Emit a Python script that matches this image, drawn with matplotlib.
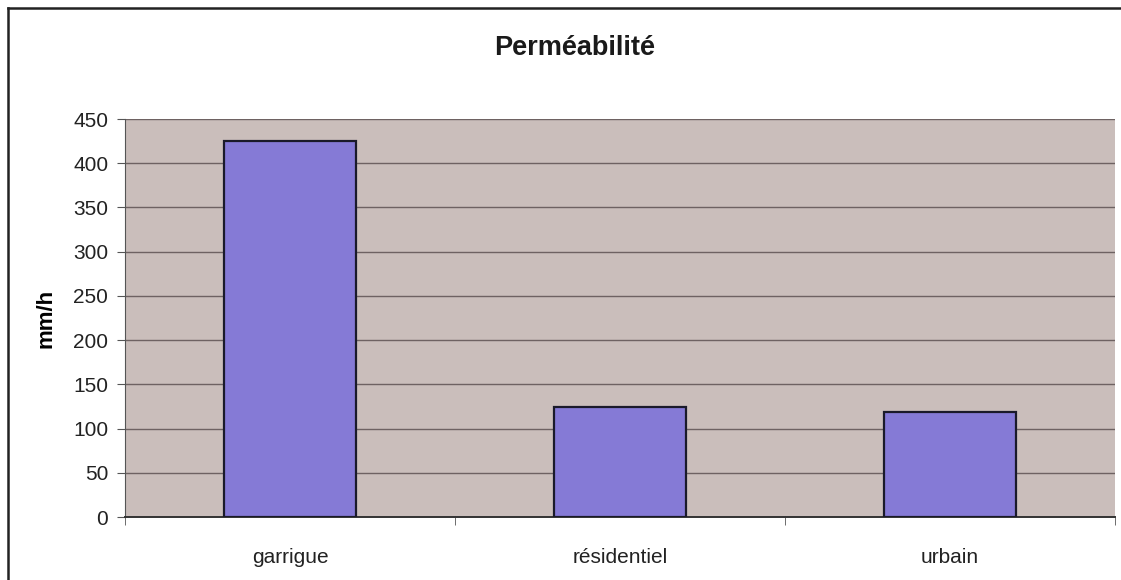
import matplotlib
matplotlib.use('Agg')
import matplotlib.pyplot as plt
import numpy as np
from matplotlib.lines import Line2D

categories = ['garrigue', 'résidentiel', 'urbain']
permeability = [425, 124, 119]  # mm/h
y_ticks = [0, 50, 100, 150, 200, 250, 300, 350, 400, 450]

BAR_COLOR = '#857ad6'
PLOT_BG = '#cabebb'
GRID_COLOR = '#6e6262'

plt.rcParams['font.family'] = ['Liberation Sans', 'DejaVu Sans']

fig = plt.figure(figsize=(11.21, 5.8), dpi=100)
ax = fig.add_axes([0.1115, 0.1086, 0.8831, 0.6862])

x = np.arange(len(categories))
ax.bar(x, permeability, width=0.40, color=BAR_COLOR, edgecolor='#1a1a2a',
       linewidth=1.6, zorder=3)

ax.set_facecolor(PLOT_BG)
ax.set_xlim(-0.5, len(categories) - 0.5)
ax.set_ylim(0, 450)
ax.set_yticks(y_ticks)
ax.set_yticklabels([str(v) for v in y_ticks], fontsize=15, color='#222222')
ax.yaxis.grid(True, color=GRID_COLOR, linewidth=1.0, zorder=1)
ax.set_axisbelow(True)

# category labels in the middle, tick marks on the boundaries
ax.set_xticks(x)
ax.set_xticklabels(categories, fontsize=15, color='#222222')
ax.tick_params(axis='x', which='major', length=0, pad=22)
ax.set_xticks(np.arange(len(categories) + 1) - 0.5, minor=True)
ax.tick_params(axis='x', which='minor', length=6, color='#555555')
ax.tick_params(axis='y', length=6, color='#555555', pad=6)

for side in ['top', 'right']:
    ax.spines[side].set_visible(False)
ax.spines['left'].set_color('#555555')
ax.spines['bottom'].set_color('#333333')
ax.spines['bottom'].set_linewidth(1.4)

ax.set_ylabel('mm/h', fontsize=16, fontweight='bold', labelpad=12)
fig.text(0.513, 0.918, 'Perméabilité', fontsize=19.5, fontweight='bold',
         ha='center', va='center', color='#1a1a1a')

# outer chart frame
fig.add_artist(Line2D([8 / 1121, 8 / 1121], [0, 1 - 8 / 580],
                      transform=fig.transFigure, color='#222222', linewidth=1.8))
fig.add_artist(Line2D([8 / 1121, 1], [1 - 8 / 580, 1 - 8 / 580],
                      transform=fig.transFigure, color='#222222', linewidth=1.8))

fig.savefig('out.png', dpi=100)
